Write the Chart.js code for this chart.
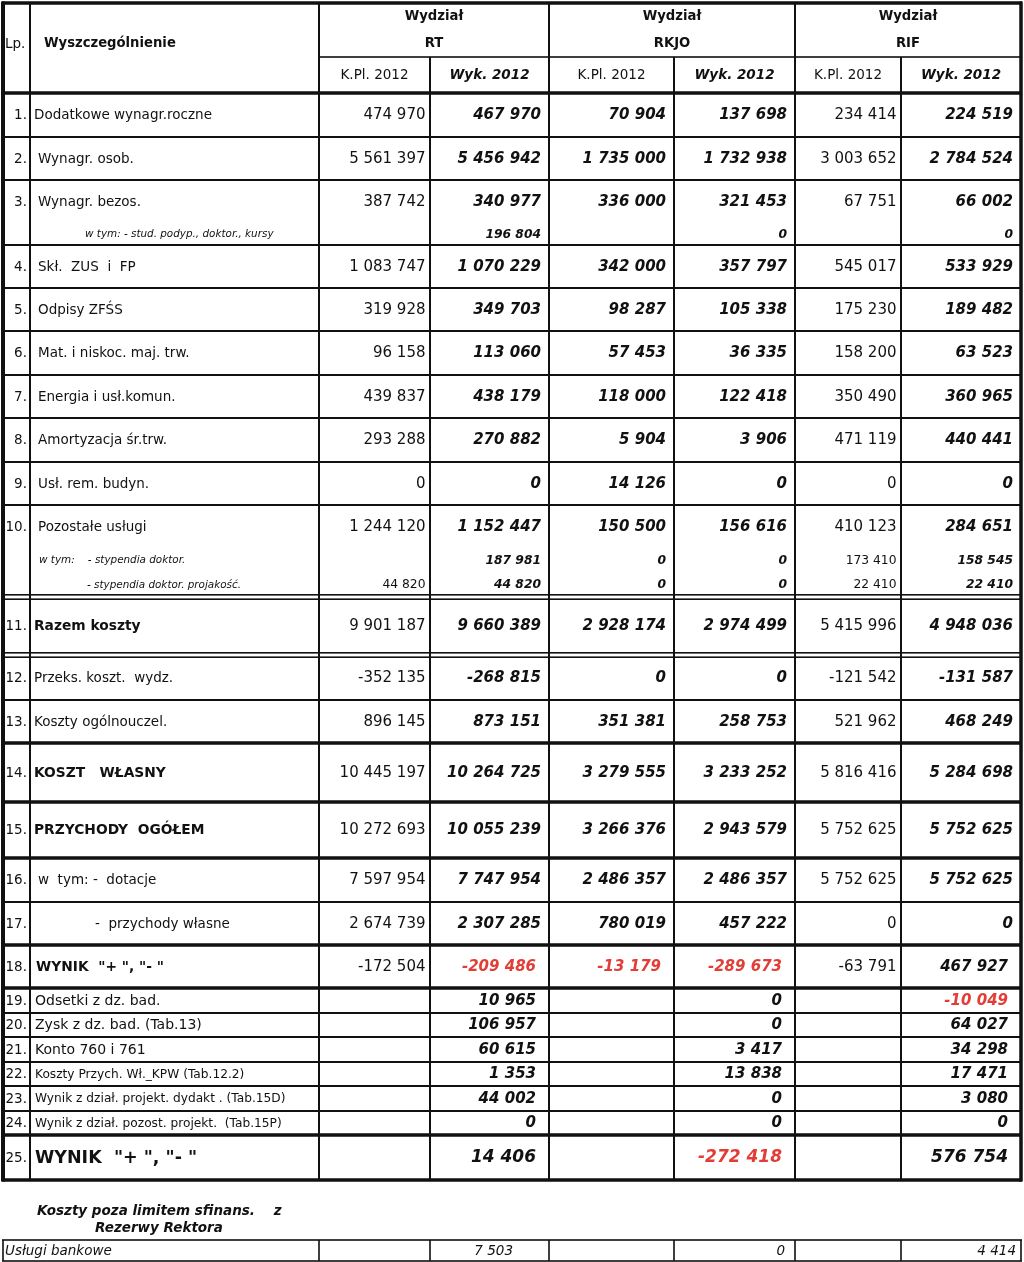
<!DOCTYPE html>
<html lang="pl">
<head>
<meta charset="utf-8">
<title>Koszty i wynik wydziałów 2012</title>
<script src="https://cdn.jsdelivr.net/npm/chart.js@4.4.0/dist/chart.umd.min.js"></script>
<style>
  html, body { margin: 0; padding: 0; background: #fff; }
  #wrap { width: 1024px; height: 1262px; }
</style>
</head>
<body>
<div id="wrap"><canvas id="tabela" width="1024" height="1262"></canvas></div>
<script>
// Dane
// -----------------------------------
var departments = ['RT', 'RKJO', 'RIF'];
var columnHeads = ['K.Pl. 2012', 'Wyk. 2012'];

var rowNumbers = ['1.', '2.', '3.', '', '4.', '5.', '6.', '7.', '8.', '9.', '10.', '', '',
    '11.', '12.', '13.', '14.', '15.', '16.', '17.', '18.', '19.', '20.', '21.', '22.', '23.', '24.', '25.'];

var categories = [
    'Dodatkowe wynagr.roczne', 'Wynagr. osob.', 'Wynagr. bezos.',
    'w tym: - stud. podyp., doktor., kursy',
    'Skł.  ZUS  i  FP', 'Odpisy ZFŚS', 'Mat. i niskoc. maj. trw.', 'Energia i usł.komun.',
    'Amortyzacja śr.trw.', 'Usł. rem. budyn.', 'Pozostałe usługi',
    'w tym:    - stypendia doktor.', '- stypendia doktor. projakość.',
    'Razem koszty', 'Przeks. koszt.  wydz.', 'Koszty ogólnouczel.', 'KOSZT   WŁASNY',
    'PRZYCHODY  OGÓŁEM', 'w  tym: -  dotacje', '-  przychody własne', 'WYNIK  "+ ", "- "',
    'Odsetki z dz. bad.', 'Zysk z dz. bad. (Tab.13)', 'Konto 760 i 761',
    'Koszty Przych. Wł._KPW (Tab.12.2)', 'Wynik z dział. projekt. dydakt . (Tab.15D)',
    'Wynik z dział. pozost. projekt.  (Tab.15P)', 'WYNIK  "+ ", "- "'
];

var rtPlan   = [474970, 5561397, 387742, null, 1083747, 319928, 96158, 439837, 293288, 0, 1244120, null, 44820,
    9901187, -352135, 896145, 10445197, 10272693, 7597954, 2674739, -172504, null, null, null, null, null, null, null];
var rtWyk    = [467970, 5456942, 340977, 196804, 1070229, 349703, 113060, 438179, 270882, 0, 1152447, 187981, 44820,
    9660389, -268815, 873151, 10264725, 10055239, 7747954, 2307285, -209486, 10965, 106957, 60615, 1353, 44002, 0, 14406];
var rkjoPlan = [70904, 1735000, 336000, null, 342000, 98287, 57453, 118000, 5904, 14126, 150500, 0, 0,
    2928174, 0, 351381, 3279555, 3266376, 2486357, 780019, -13179, null, null, null, null, null, null, null];
var rkjoWyk  = [137698, 1732938, 321453, 0, 357797, 105338, 36335, 122418, 3906, 0, 156616, 0, 0,
    2974499, 0, 258753, 3233252, 2943579, 2486357, 457222, -289673, 0, 0, 3417, 13838, 0, 0, -272418];
var rifPlan  = [234414, 3003652, 67751, null, 545017, 175230, 158200, 350490, 471119, 0, 410123, 173410, 22410,
    5415996, -121542, 521962, 5816416, 5752625, 5752625, 0, -63791, null, null, null, null, null, null, null];
var rifWyk   = [224519, 2784524, 66002, 0, 533929, 189482, 63523, 360965, 440441, 0, 284651, 158545, 22410,
    4948036, -131587, 468249, 5284698, 5752625, 5752625, 0, 467927, -10049, 64027, 34298, 17471, 3080, 0, 576754];

var extraTitle = ['Koszty poza limitem sfinans.    z', 'Rezerwy Rektora'];
var extraLabel = 'Usługi bankowe';
var extraValues = [7503, 0, 4414];   // Wyk. 2012: RT, RKJO, RIF

// Układ (szerokości, wysokości, style)
// -----------------------------------
var colWidths = [27, 289, 111, 119, 125, 121, 106, 120];
var headHeights = [54, 36];
var rowHeights = [44, 43, 43, 22, 43, 43, 44, 43, 44, 43, 43, 24, 25, 58, 45, 43, 59, 56, 44, 43, 43,
    25, 24, 25, 24, 25, 24, 45];
var rowRules = ['thin', 'thin', 'none', 'thin', 'thin', 'thin', 'thin', 'thin', 'thin', 'thin', 'none', 'none', 'double',
    'double', 'thin', 'thick', 'thick', 'thick', 'thin', 'thick', 'thick', 'thin', 'thin', 'thin', 'thin', 'thin', 'thick', 'thick'];
var rowKinds = ['m', 'm', 'm', 's3', 'm', 'm', 'm', 'm', 'm', 'm', 'm', 's10', 's10', 'b', 'm', 'm', 'b', 'b', 'm', 'm', 'r',
    'l', 'l', 'l', 'ls', 'ls', 'ls', 't'];
var labelX = [34, 38, 38, 85, 38, 38, 38, 38, 38, 38, 38, 39, 87, 34, 34, 34, 34, 34, 38, 95, 36,
    35, 35, 35, 35, 35, 35, 35];
var boldCols = [false, true, true, true, false, true];
var extraPads = [36, 10, 5];

var FF = '"DejaVu Sans", Verdana, sans-serif';
var INK = '#111';
var RED = '#e23d36';

function fnt(style, size) { return style + ' ' + size + 'px ' + FF; }
function fmt(v) { return String(v).replace(/\B(?=(\d{3})+(?!\d))/g, ' '); }

var tablePlugin = {
    id: 'tabela',
    afterDraw: function(chart) {
        var ctx = chart.ctx;
        var sx = chart.scales.x, sy = chart.scales.y;
        var X = function(v) { return sx.getPixelForValue(v); };
        var Y = function(v) { return sy.getPixelForValue(v); };

        var colX = [3];
        colWidths.forEach(function(w, i) { colX.push(colX[i] + w); });
        var top = 3;
        var headMid = top + headHeights[0];
        var headBot = headMid + headHeights[1];
        var rowY = [headBot];
        rowHeights.forEach(function(h, i) { rowY.push(rowY[i] + h); });
        var tableBot = rowY[rowY.length - 1];
        var series = [rtPlan, rtWyk, rkjoPlan, rkjoWyk, rifPlan, rifWyk];

        function hline(y, x0, x1, w) { ctx.fillRect(X(x0) - 1, Y(y) - w / 2, X(x1) - X(x0) + 2, w); }
        function vline(x, y0, y1, w) { ctx.fillRect(X(x) - w / 2, Y(y0), w, Y(y1) - Y(y0)); }
        function text(s, x, y, align, font, color) {
            ctx.font = font;
            ctx.fillStyle = color || INK;
            ctx.textAlign = align;
            ctx.textBaseline = 'middle';
            ctx.fillText(s, X(x), Y(y));
        }

        ctx.save();

        // naglowek
        text('Lp.', 5, 44, 'left', fnt('', 13.5));
        text('Wyszczególnienie', 44, 44, 'left', fnt('bold', 13.2));
        departments.forEach(function(d, i) {
            var cx = (colX[2 + i * 2] + colX[4 + i * 2]) / 2;
            text('Wydział', cx, 17, 'center', fnt('bold', 13.2));
            text(d, cx, 44, 'center', fnt('bold', 13.2));
            columnHeads.forEach(function(h, j) {
                var c = (colX[2 + i * 2 + j] + colX[3 + i * 2 + j]) / 2;
                text(h, c, 75, 'center', j ? fnt('italic bold', 13.5) : fnt('', 13.5));
            });
        });

        // wiersze
        categories.forEach(function(label, r) {
            var kind = rowKinds[r];
            var cy = (rowY[r] + rowY[r + 1]) / 2 + 0.5;
            var lf = fnt('', 13.5), nf = 15, pad = 8;
            if (kind === 'b' || kind === 'r') lf = fnt('bold', 13.8);
            if (kind === 's3' || kind === 's10') { lf = fnt('italic', 10.4); nf = 12.3; }
            if (kind === 'l') lf = fnt('', 14);
            if (kind === 'ls') lf = fnt('', 12.2);
            if (kind === 't') { lf = fnt('bold', 17.5); nf = 17; }
            if (kind === 'r' || kind === 'l' || kind === 'ls' || kind === 't') pad = 13;

            if (rowNumbers[r]) text(rowNumbers[r], colX[1] - 3, cy, 'right', fnt('', 13.5));
            text(label, labelX[r], cy, 'left', lf);

            series.forEach(function(s, c) {
                var v = s[r];
                if (v === null) return;
                var bold = boldCols[c] || kind === 's3';
                var red = bold && v < 0 && pad === 13;
                text(fmt(v), colX[c + 3] - (bold ? pad : 4.5), cy, 'right',
                    fnt(bold ? 'italic bold' : '', nf), red ? RED : INK);
            });
        });

        // linie
        ctx.fillStyle = INK;
        hline(top, colX[0], colX[8], 3.5);
        hline(headMid, colX[2], colX[8], 1.6);
        hline(headBot, colX[0], colX[8], 3.5);
        rowRules.forEach(function(rule, r) {
            var y = rowY[r + 1];
            if (rule === 'thin') hline(y, colX[0], colX[8], 2);
            if (rule === 'thick') hline(y, colX[0], colX[8], 3.5);
            if (rule === 'double') { hline(y - 2.2, colX[0], colX[8], 1.6); hline(y + 2.2, colX[0], colX[8], 1.6); }
        });
        vline(colX[0], top - 1.5, tableBot + 1.5, 4);
        vline(colX[8], top - 1.5, tableBot + 1.5, 3.5);
        [1, 2, 4, 6].forEach(function(i) { vline(colX[i], top, tableBot, 2); });
        [3, 5, 7].forEach(function(i) { vline(colX[i], headMid, tableBot, 2); });

        // koszty poza limitem
        text(extraTitle[0], 37, 1211, 'left', fnt('italic bold', 13.5));
        text(extraTitle[1], 95, 1228, 'left', fnt('italic bold', 13.5));
        var eTop = 1240, eBot = 1261;
        ctx.fillStyle = INK;
        hline(eTop, colX[0], colX[8], 1.6);
        hline(eBot, colX[0], colX[8], 1.6);
        [0, 2, 3, 4, 5, 6, 7, 8].forEach(function(i) { vline(colX[i], eTop, eBot, 1.6); });
        text(extraLabel, 5, 1251, 'left', fnt('italic', 13.5));
        extraValues.forEach(function(v, i) {
            text(fmt(v), colX[4 + i * 2] - extraPads[i], 1251, 'right', fnt('italic', 13.5));
        });

        ctx.restore();
    }
};

var ctx = document.getElementById('tabela').getContext('2d');
var chart = new Chart(ctx, {
    type: 'scatter',
    data: { datasets: [] },
    options: {
        responsive: false,
        animation: false,
        devicePixelRatio: 1,
        events: [],
        layout: { padding: 0 },
        plugins: { legend: { display: false }, tooltip: { enabled: false } },
        scales: {
            x: { type: 'linear', display: false, min: 0, max: 1024 },
            y: { type: 'linear', display: false, min: 0, max: 1262, reverse: true }
        }
    },
    plugins: [tablePlugin]
});
</script>
</body>
</html>
